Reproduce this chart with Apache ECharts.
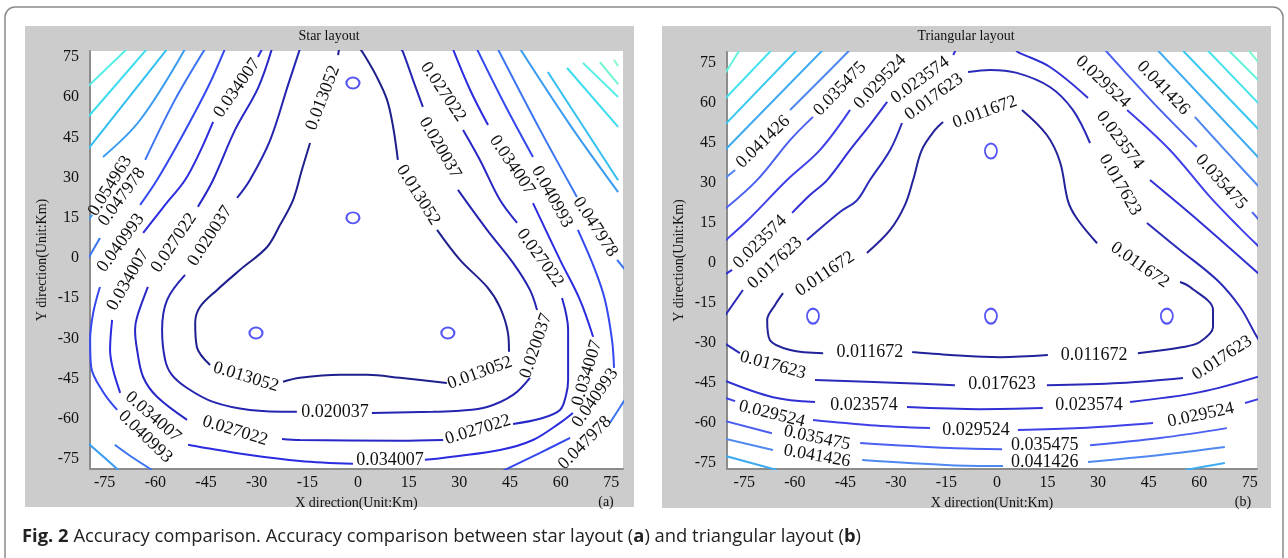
<!DOCTYPE html>
<html><head><meta charset="utf-8">
<script src="https://cdn.jsdelivr.net/npm/echarts/dist/echarts.min.js"></script>
<style>html,body{margin:0;padding:0;background:#fff}#c{width:1288px;height:558px}</style>
</head><body><div id="c"></div>
<script>
// ---------- DATA ----------
const tickValues = [-75,-60,-45,-30,-15,0,15,30,45,60,75];

// Star layout (a)
const starLevels = [0.013052,0.020037,0.027022,0.034007,0.040993,0.047978,0.054963,0.061948,0.068933,0.075918,0.082903,0.089888];
const starC0 = [
  [[0.6,78],[1.5,76.5],[5.6,67.5],[8.6,59],[10.4,48.9],[11.8,36.6]],
  [[23.4,10.5],[30.2,-0.7],[38.2,-10.8],[42,-18.3],[44.4,-28],[44.7,-35]],
  [[26.3,-46.6],[12.4,-44.7],[2.7,-43.6],[-5.3,-43.6],[-17.2,-44.7],[-22.2,-46.2]],
  [[-43.8,-39.9],[-47.7,-33.2],[-48.2,-24.2],[-46.8,-18.3],[-41.7,-11.9],[-34.9,-4.4],[-26.9,4.1],[-23.1,12.3],[-19.2,21.7],[-16.6,32.9],[-14.2,42.9]],
  [[-5.9,75.7],[-5.6,78]]
];
const starC1 = [
  [[12.7,78],[13.3,76.9],[16.3,66.4],[19.2,56.4]],
  [[29.6,25.4],[38.2,10.5],[45.9,-1.8],[50.9,-11.9],[53,-19.4]],
  [[50.9,-44.7],[45.9,-51.1],[38.2,-55.6],[30.2,-57],[22.2,-57.4],[4.1,-57.8]],
  [[-18.1,-57.4],[-32,-56.7],[-42.9,-53.7],[-50.6,-48.5],[-55.1,-43.6],[-57.1,-38],[-58,-26.8],[-56.5,-15.6],[-51.2,-6.3]],
  [[-35.8,22.4],[-32,29.1],[-26,44],[-20.7,64.6],[-17.2,78]]
];
const starC2 = [
  [[31.1,47.8],[36.1,36.6],[42,21.7],[47.1,13.1]],
  [[60.4,-14.9],[62.2,-26.8],[62.2,-45.5],[61.6,-51.1],[59.8,-56.7],[53.9,-60],[45.9,-61.9]],
  [[25.2,-67.9],[12.4,-68.2],[-17.2,-67.9],[-22.5,-67.5]],
  [[-50.6,-60.4],[-59.5,-51.8],[-63.6,-44.4],[-65.4,-34.3],[-66,-26.8],[-65.4,-22],[-62.2,-10.8]],
  [[-47.4,19.1],[-42.9,29.1],[-36.4,47.8],[-29.6,63.4],[-25.5,78]]
];
const starC3 = [
  [[28.1,78],[33.2,62.7],[38.5,49.6]],
  [[51.8,20.5],[59.8,-0.7],[65.7,-15.6],[69.6,-29.4]],
  [[63.6,-57.8],[59.8,-61.5],[51.8,-67.9],[42,-71.6],[19.8,-75.3]],
  [[-1.5,-76.8],[-17.2,-75.7],[-32,-73.5],[-46.8,-70.5],[-50.3,-69.7]],
  [[-70.4,-50.3],[-72.5,-41.7],[-73.4,-34.3],[-72.8,-23.1]],
  [[-63.6,9.4],[-57.1,19.8],[-51.2,29.1],[-46.8,39.6],[-42.9,50.8]],
  [[-29.6,75],[-28.4,78]]
];
const starC4 = [
  [[35.2,78],[43.5,57.1],[51.8,37.7]],
  [[65.1,10.5],[70.2,-4.5],[73.1,-15.6],[75.2,-30.6],[75.8,-41]],
  [[62.8,-67.1],[53.9,-72.7],[44.1,-78.7],[42,-80]],
  [[-71.3,-56.7],[-75.5,-49.9],[-79,-40.6],[-79.3,-30.6],[-78.4,-20.5],[-76.4,-10.8]],
  [[-64.5,19.8],[-59.5,29.1],[-52.7,44],[-44.4,63.8],[-39.4,78]]
];
const starC5 = [
  [[41.4,78],[53.9,47.8],[64.8,22.8]],
  [[76.7,-0.7],[79.5,-5]],
  [[79.5,-52],[77.6,-55.6],[74.6,-61.5]],
  [[-72,-69.7],[-67.5,-73.8],[-61,-79.1]],
  [[-45.3,78],[-54.2,59],[-63,36.6]],
  [[-76.4,7.5],[-80.5,-1.5]]
];
const starC6 = [
  [[48,78],[62.8,49.6],[77,24.6]],
  [[-51.2,78],[-64.5,51.5],[-75.5,37.7]],
  [[-78.7,16.1],[-80.5,13]],
  [[-80.5,-68.5],[-71.3,-78.7],[-70.4,-80]]
];
const starC7 = [[[56.2,69.4],[77,29]], [[-56.5,78],[-80,40.5]]];
const starC8 = [[[61.9,70.9],[77,48.9]], [[-62.5,78],[-80,52.5]]];
const starC9 = [[[66.6,72.8],[77,60.1]], [[-68.4,78],[-80,64]]];
const starC10 = [[[71.6,73.1],[77,64.9]]];
const starC11 = [[[75.8,73.9],[77,71.6]]];
// [x, y, angle, level index]
const starLabels = [
  [17.8,23.5,-58,0],[36.1,-42.9,20,0],[-33.2,-44.4,-17,0],[-10.4,59.7,69,0],
  [24.3,41.1,-60,1],[52.7,-32.8,71,1],[-6.8,-57.4,0,1],[-43.8,8.2,57,1],
  [25.2,62,-56,2],[53.9,0,-54,2],[35.5,-64.1,17,2],[-36.4,-64.5,-17,2],[-54.5,5.6,56,2],
  [45.6,34.7,-56,3],[67.8,-42.9,73,3],[9.5,-75.3,0,3],[-60.7,-59.3,-41,3],[-68.1,-8.2,60,3],[-35.8,63.4,55,3],
  [57.4,22.8,-61,4],[70.2,-52.2,55,4],[-63,-66.7,-44,4],[-70.2,5.6,54,4],
  [70.2,11.6,-57,5],[67.2,-69,45,5],[-69.9,22.8,54,5],
  [-73.4,26.9,58,6]
];
const starStations = [[-1.5,65.3],[-1.5,15],[-30.2,-28],[26.6,-28]];

// Triangular layout (b)
const triLevels = [0.011672,0.017623,0.023574,0.029524,0.035475,0.041426,0.047377,0.053328,0.059279,0.06523,0.071181];
const triC0 = [
  [[7.4,57.4],[14.8,48],[18.7,37.9],[21.1,23.1],[23.7,16.7],[29.7,7.4]],
  [[54.3,-7.1],[57.3,-9],[64.1,-17.6],[64.1,-24],[60.2,-29.6],[55.2,-31.5],[41.8,-33.8]],
  [[15.1,-34.5],[0.9,-35.3],[-13.9,-34.5],[-25.2,-33.4]],
  [[-51.6,-33.8],[-61.4,-32.6],[-67.4,-28.9],[-68.2,-21.4],[-65.9,-15.8],[-63.5,-11.3]],
  [[-38.6,3.8],[-31.7,12.4],[-27.3,21.8],[-24.9,31.1],[-22.3,42.4],[-18.4,49.9],[-16,52.9]]
];
const triC1 = [
  [[-81,-20.3],[-75.4,-10.1]],
  [[-56.4,8.6],[-46.6,19.1],[-41.5,23.6],[-37.7,31.1],[-31.7,42.4],[-28.2,52.5]],
  [[-8.6,71.6],[-2.1,72.4],[5.9,71.3],[15.7,66],[22.5,57.4],[27.6,45]],
  [[44.5,15],[54.3,4.9],[65.3,-6.4],[72.1,-16.5],[76.5,-26.3],[77.7,-28.9]],
  [[55.2,-43.1],[36.5,-45],[14.8,-45.8]],
  [[-12.5,-45.8],[-28.8,-45],[-54,-43.9]],
  [[-76.3,-33.8],[-81,-30]]
];
const triC2 = [
  [[-81,-4.5],[-78.6,-2.6]],
  [[-60.8,18.8],[-55.5,25.5],[-50.4,31.1],[-43.6,42.4],[-37.7,51.8],[-32.6,60.4]],
  [[-13,78],[-12.2,80]],
  [[5.6,80],[6.2,79.1],[15.7,73.5],[27,61.9]],
  [[45.4,31.1],[60.2,15.4],[78,-4.4]],
  [[78,-42.4],[60.2,-48.4],[39.5,-52.1]],
  [[13.6,-54.4],[-5,-54.8],[-26.7,-54]],
  [[-54,-52.1],[-66.5,-50.3],[-81,-44]]
];
const triC3 = [
  [[-43.6,57.4],[-52.5,42.4],[-62.3,31.1],[-73.9,16.1],[-81,8]],
  [[38.6,57.4],[51.3,42.4],[63.2,24.8],[72.1,13.1],[78,5.8]],
  [[-81,-50.4],[-77.7,-51.8]],
  [[-54.6,-58.9],[-37.7,-60.8],[-19.9,-61.9]],
  [[6.2,-62.6],[24.6,-61.9],[46.3,-60]],
  [[73.6,-52.5],[78,-50.9]]
];
const triC4 = [
  [[-54.6,54.8],[-61.4,46.1],[-71.2,31.1],[-81,20]],
  [[32,80],[38,71.6],[48.4,57.4],[59.3,43.5]],
  [[75.7,19.1],[78,15.8]],
  [[-81,-59.1],[-66.8,-63.8]],
  [[-40.6,-67.5],[-13.9,-69.4],[1.5,-69.8]],
  [[27.6,-68.3],[48.4,-65.6],[68.2,-61.9]]
];
const triC5 = [
  [[-43.6,80],[-52.5,68.6],[-61.4,57.4]],
  [[-77.7,34.9],[-81,31.5]],
  [[58.7,54.8],[67.6,42.4],[78,28.2]],
  [[-81,-65.8],[-66.5,-70.1]],
  [[-40,-73.9],[-13.9,-75.8],[1.8,-76.1]],
  [[27,-74.6],[48.4,-72],[67.6,-69]]
];
const triC6 = [[[-51.6,80],[-81,42]], [[47.5,80],[78,39]], [[-81,-72.2],[-65.3,-77.6]], [[55.8,-77.6],[67.6,-75]]];
const triC7 = [[[-59.3,80],[-81,51.5]], [[54.9,80],[78,49.6]]];
const triC8 = [[[-66.8,80],[-81,61.2]], [[62.3,80],[78,59.3]]];
const triC9 = [[[-76.3,80],[-81,70.5]], [[68.5,80],[78,68]]];
const triC10 = [[[74.5,80],[78,74.6]]];
const triLabels = [
  [-3.6,56.6,20,0],[42.4,-0.8,-35,0],[28.8,-34.5,0,0],[-37.7,-33.4,0,0],[-51,-4.1,34,0],
  [-65.9,0,43,1],[-18.7,62.3,36,1],[36.5,29.3,-60,1],[66.8,-35.6,33,1],[1.5,-45.4,0,1],[-66.5,-38.3,-15,1],
  [-70.3,7.9,45,2],[-22.8,68.6,36,2],[36.5,46.1,-53,2],[27.3,-53.3,0,2],[-39.5,-53.3,0,2],
  [-34.7,67.9,47,3],[31.4,67.9,-43,3],[-66.8,-56.6,-14,3],[-6.2,-62.6,0,3],[60.5,-57,12,3],
  [-46.6,65.3,46,4],[66.5,30.4,-48,4],[-53.4,-65.6,-12,4],[14.2,-68.3,0,4],
  [-69.4,45.4,44,5],[49.3,65.6,-46,5],[-53.4,-72.4,-10,5],[14.2,-74.6,0,5]
];
const triStations = [[-1.8,42],[-54.6,-19.9],[-1.8,-19.9],[50.4,-19.9]];

// ---------- STYLE / BUILD ----------
const starContours = [starC0,starC1,starC2,starC3,starC4,starC5,starC6,starC7,starC8,starC9,starC10,starC11];
const triContours = [triC0,triC1,triC2,triC3,triC4,triC5,triC6,triC7,triC8,triC9,triC10];
const starColors = ['#1f1f8e','#2424b0','#2727c8','#2b2be0','#3448ef','#3b74f0','#3a9cf0','#33c0f0','#3edcef','#55eee4','#6ff5d4','#85f9c6'];
const triColors = ['#22229a','#2a2ab8','#3030d4','#4040e8','#4a60f0','#4f88f0','#3eaaf0','#36c8f0','#45e2ee','#62f2dc','#7af8cc'];
const serif = '"Liberation Serif", "Times New Roman", serif';

function lineSeries(contours, colors, idx) {
  const out = [];
  contours.forEach((segs, li) => segs.forEach(seg => out.push({
    type: 'line', xAxisIndex: idx, yAxisIndex: idx, data: seg,
    showSymbol: false, symbol: 'none', smooth: 0.35, clip: true,
    lineStyle: { color: colors[li], width: 2 }, silent: true, animation: false, z: 2
  })));
  return out;
}
function labelSeries(labels, levels, idx) {
  return {
    type: 'custom', xAxisIndex: idx, yAxisIndex: idx, data: labels, clip: false,
    silent: true, animation: false, z: 5,
    renderItem: function (params, api) {
      const p = api.coord([api.value(0), api.value(1)]);
      return { type: 'text', x: p[0], y: p[1], rotation: api.value(2) * Math.PI / 180,
        style: { text: String(levels[api.value(3)]), font: '18px ' + serif, fill: '#111',
          align: 'center', verticalAlign: 'middle', textAlign: 'center', textVerticalAlign: 'middle' } };
    }
  };
}
function stationSeries(data, idx, size) {
  return { type: 'scatter', xAxisIndex: idx, yAxisIndex: idx, data: data, symbol: 'circle',
    symbolSize: size, silent: true, animation: false, z: 4,
    itemStyle: { color: 'rgba(0,0,0,0)', borderColor: '#2c2cf2', borderWidth: 2 } };
}
function xAxis(idx, min, max) {
  return { type: 'value', gridIndex: idx, min: min, max: max,
    name: 'X direction(Unit:Km)', nameLocation: 'middle', nameGap: 26,
    nameTextStyle: { fontFamily: serif, fontSize: 14, color: '#111' },
    axisLine: { onZero: false, lineStyle: { color: '#8c8c8c', width: 2 } },
    axisTick: { show: false }, splitLine: { show: false },
    axisLabel: { customValues: tickValues, margin: 6, fontFamily: serif, fontSize: 16, color: '#111' } };
}
function yAxis(idx, min, max) {
  return { type: 'value', gridIndex: idx, min: min, max: max,
    name: 'Y direction(Unit:Km)', nameLocation: 'middle', nameGap: 41,
    nameTextStyle: { fontFamily: serif, fontSize: 14, color: '#111' },
    axisLine: { onZero: false, lineStyle: { color: '#8c8c8c', width: 2 } },
    axisTick: { show: false }, splitLine: { show: false },
    axisLabel: { customValues: tickValues, margin: 11, fontFamily: serif, fontSize: 16, color: '#111' } };
}

const chart = echarts.init(document.getElementById('c'), null, { renderer: 'canvas' });
chart.setOption({
  backgroundColor: '#ffffff',
  animation: false,
  grid: [
    { left: 90, top: 51, width: 533, height: 418, show: true, backgroundColor: '#ffffff', borderWidth: 0, outerBoundsMode: 'none' },
    { left: 727, top: 52, width: 530, height: 417, show: true, backgroundColor: '#ffffff', borderWidth: 0, outerBoundsMode: 'none' }
  ],
  xAxis: [xAxis(0, -79.34, 78.45), xAxis(1, -80.12, 77.15)],
  yAxis: [yAxis(0, -78.73, 77.24), yAxis(1, -77.23, 79.12)],
  graphic: [
    { type: 'rect', z: -30, silent: true, shape: { x: 5, y: 7, width: 1278, height: 640, r: 10 }, style: { fill: 'none', stroke: '#8a8a8a', lineWidth: 1.5 } },
    { type: 'rect', z: -20, silent: true, shape: { x: 25, y: 26, width: 609, height: 481 }, style: { fill: '#cccccc' } },
    { type: 'rect', z: -20, silent: true, shape: { x: 662, y: 26, width: 609, height: 482 }, style: { fill: '#cccccc' } },
    { type: 'text', silent: true, x: 329, y: 36, style: { text: 'Star layout', font: '14px ' + serif, fill: '#111', align: 'center', verticalAlign: 'middle', textAlign: 'center', textVerticalAlign: 'middle' } },
    { type: 'text', silent: true, x: 966, y: 36, style: { text: 'Triangular layout', font: '14px ' + serif, fill: '#111', align: 'center', verticalAlign: 'middle', textAlign: 'center', textVerticalAlign: 'middle' } },
    { type: 'text', silent: true, x: 606, y: 502, style: { text: '(a)', font: '14px ' + serif, fill: '#111', align: 'center', verticalAlign: 'middle', textAlign: 'center', textVerticalAlign: 'middle' } },
    { type: 'text', silent: true, x: 1243, y: 502, style: { text: '(b)', font: '14px ' + serif, fill: '#111', align: 'center', verticalAlign: 'middle', textAlign: 'center', textVerticalAlign: 'middle' } },
    { type: 'text', silent: true, x: 22, y: 537, style: {
        text: '{b|Fig. 2}{n| Accuracy comparison. Accuracy comparison between star layout (}{b|a}{n|) and triangular layout (}{b|b}{n|)}',
        verticalAlign: 'middle', textVerticalAlign: 'middle',
        rich: { b: { fontFamily: '"Open Sans", sans-serif', fontSize: 18.4, fontWeight: 'bold', fill: '#222', color: '#222' },
                n: { fontFamily: '"Open Sans", sans-serif', fontSize: 18.4, fill: '#222', color: '#222' } } } }
  ],
  series: [].concat(
    lineSeries(starContours, starColors, 0),
    lineSeries(triContours, triColors, 1),
    [labelSeries(starLabels, starLevels, 0), labelSeries(triLabels, triLevels, 1),
     stationSeries(starStations, 0, [13, 11]), stationSeries(triStations, 1, [12, 15])]
  )
});
</script></body></html>
